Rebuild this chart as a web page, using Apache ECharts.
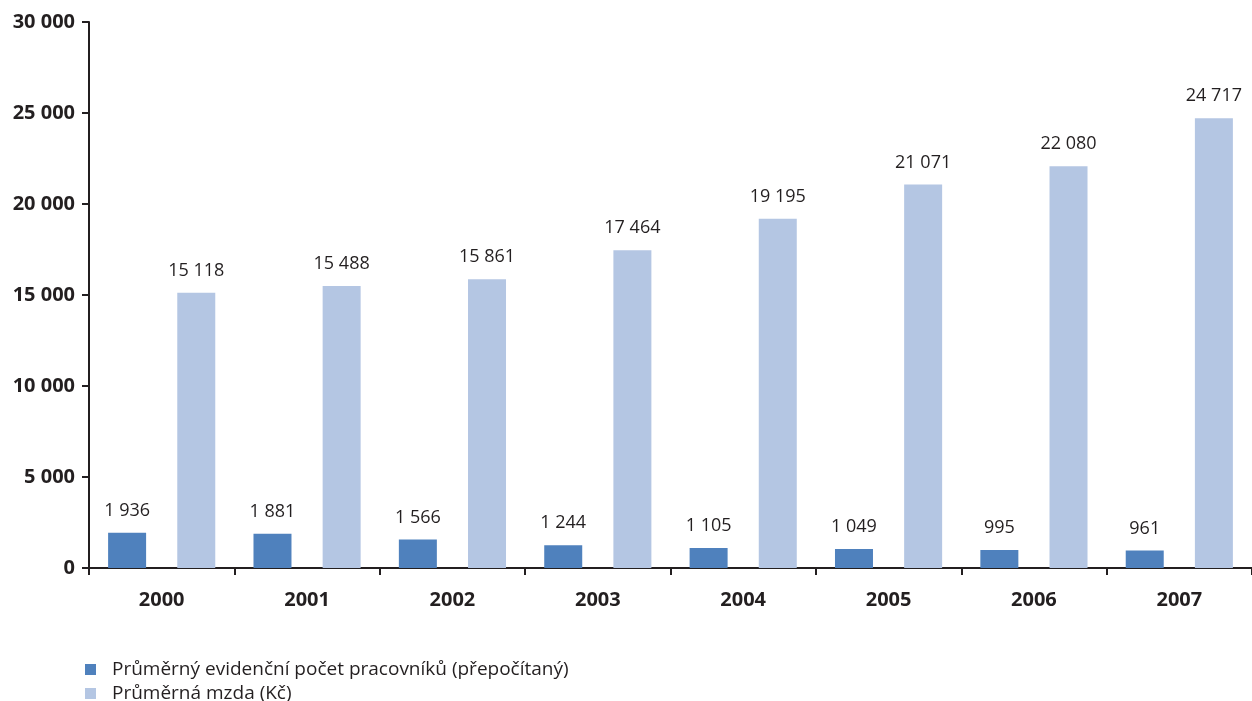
<!DOCTYPE html>
<html><head><meta charset="utf-8">
<script src="https://cdn.jsdelivr.net/npm/echarts@6/dist/echarts.min.js"></script>
<style>html,body{margin:0;padding:0;background:#fff}#c{width:1252px;height:701px}</style>
</head><body><div id="c"></div>
<script>
const categories = ['2000','2001','2002','2003','2004','2005','2006','2007'];
const workers = [1936,1881,1566,1244,1105,1049,995,961];
const wages = [15118,15488,15861,17464,19195,21071,22080,24717];
const seriesNames = ['Průměrný evidenční počet pracovníků (přepočítaný)','Průměrná mzda (Kč)'];

const fmt = v => String(v).replace(/\B(?=(\d{3})+(?!\d))/g, ' ');
const FONT = 'Open Sans';
const chart = echarts.init(document.getElementById('c'));
const lbl = {show:true, position:'top', distance:13, color:'#231f20', fontSize:18, fontFamily:FONT, formatter:p=>fmt(p.value)};
const legendBase = {left:80, itemWidth:11, itemHeight:11, icon:'rect', selectedMode:false,
  textStyle:{fontSize:19, color:'#231f20', fontFamily:FONT, padding:[0,0,0,11]}};
chart.setOption({
  animation:false,
  textStyle:{fontFamily:FONT},
  grid:{left:89, top:22, width:1168, bottom:133, containLabel:false},
  legend:[
    Object.assign({}, legendBase, {top:655, data:[seriesNames[0]]}),
    Object.assign({}, legendBase, {top:679, data:[seriesNames[1]]})
  ],
  xAxis:{type:'category', data:categories,
    axisLine:{lineStyle:{color:'#231f20', width:2}},
    axisTick:{show:true, length:7, lineStyle:{color:'#231f20', width:2}},
    axisLabel:{fontSize:20, fontWeight:'bold', color:'#231f20', margin:22, fontFamily:FONT}},
  yAxis:{type:'value', min:0, max:30000, interval:5000,
    axisLine:{show:true, lineStyle:{color:'#231f20', width:2}},
    axisTick:{show:true, length:7, lineStyle:{color:'#231f20', width:2}},
    splitLine:{show:false},
    axisLabel:{fontSize:20, fontWeight:'bold', color:'#231f20', margin:14, fontFamily:FONT, formatter:v=>fmt(v)}},
  series:[
    {name:seriesNames[0], type:'bar', data:workers, barWidth:38, barGap:'82%', itemStyle:{color:'#4f81bd'}, label:lbl},
    {name:seriesNames[1], type:'bar', data:wages, barWidth:38, itemStyle:{color:'#b4c6e3'}, label:lbl}
  ]
});
</script></body></html>
